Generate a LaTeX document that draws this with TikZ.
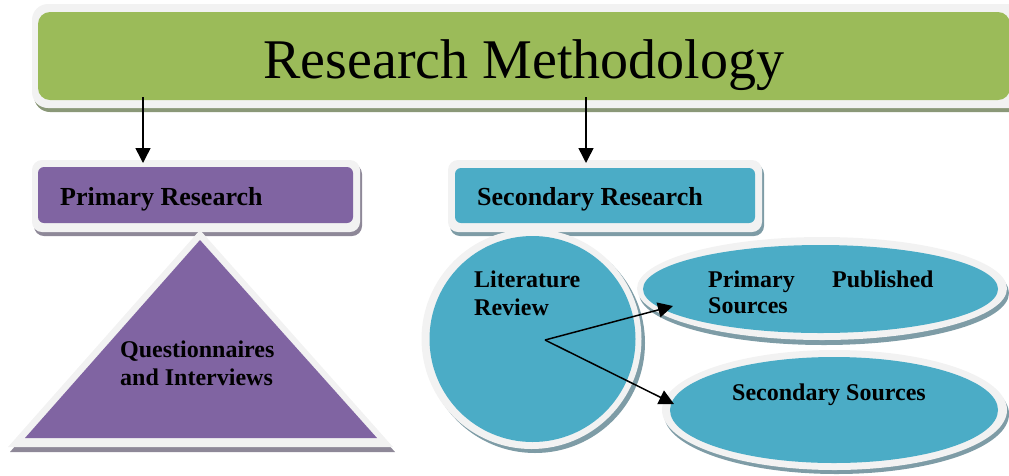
\documentclass[tikz,border=0pt]{standalone}
\usepackage{fontspec}
\setmainfont{Liberation Serif}
\usetikzlibrary{arrows.meta}
\definecolor{rmgreen}{HTML}{9BBB59}
\definecolor{rmpurple}{HTML}{8064A2}
\definecolor{rmteal}{HTML}{4BACC6}
\definecolor{rmbord}{HTML}{F2F2F2}
\definecolor{shgreen}{HTML}{8A9878}
\definecolor{shpurple}{HTML}{8E8898}
\definecolor{shteal}{HTML}{7E9CA6}
\tikzset{
  lbl/.style={font=\bfseries\fontsize{24}{28}\selectfont, inner sep=0pt, anchor=base west},
  hdr/.style={font=\bfseries\fontsize{26}{30}\selectfont, inner sep=0pt, anchor=base west},
  conn/.style={line width=1.5pt, -{Triangle[length=15pt,width=15pt]}},
}
\begin{document}
\begin{tikzpicture}[x=1pt,y=-1pt]
\clip (0,0) rectangle (1009,475);
\useasboundingbox (0,0) rectangle (1009,475);
% ---- top green box
\fill[shgreen, rounded corners=16pt] (34,10) rectangle (1030,112);
\fill[rmbord, rounded corners=16pt] (32,4) rectangle (1030,108);
\fill[rmgreen, rounded corners=12pt] (38,12) rectangle (1010,100);
\node[font=\fontsize{56}{60}\selectfont, inner sep=0pt, anchor=base] (title) at (524,78) {Research Methodology};
% ---- primary research box
\fill[shpurple, rounded corners=10pt] (34,164) rectangle (362,236);
\fill[rmbord, rounded corners=10pt] (32,160) rectangle (360,232);
\fill[rmpurple, rounded corners=6pt] (38,167) rectangle (353,223);
\node[hdr] (prim) at (60,205) {Primary Research};
% ---- secondary research box
\fill[shteal, rounded corners=10pt] (450,164) rectangle (764,236);
\fill[rmbord, rounded corners=10pt] (448,160) rectangle (762,232);
\fill[rmteal, rounded corners=6pt] (455,168) rectangle (755,223);
\node[hdr] (sec) at (477,205) {Secondary Research};
% ---- triangle
\fill[shpurple] (10,452) -- (200,236) -- (395,452) -- cycle;
\fill[rmbord] (8,447) -- (200,230) -- (393,447) -- cycle;
\fill[rmpurple] (25,438) -- (200,240) -- (377,438) -- cycle;
\node[lbl] (q1) at (120,357) {Questionnaires};
\node[lbl] (q2) at (120,385) {and Interviews};
% ---- ellipses (drawn before circle so circle overlaps)
\fill[shteal] (824,293) ellipse [x radius=185pt, y radius=52pt];
\fill[rmbord] (822,288.5) ellipse [x radius=185pt, y radius=51.5pt];
\fill[rmteal] (820.5,289) ellipse [x radius=177.5pt, y radius=44pt];
\fill[shteal] (836.5,414) ellipse [x radius=172.5pt, y radius=60pt];
\fill[rmbord] (834.5,410) ellipse [x radius=172.5pt, y radius=60pt];
\fill[rmteal] (834,410) ellipse [x radius=164pt, y radius=53pt];
% ---- literature review circle
\fill[shteal] (535,343) circle [radius=110pt];
\fill[rmbord] (531.5,339) circle [radius=110pt];
\fill[rmteal] (532.5,339) circle [radius=103pt];
\node[lbl] (lit1) at (474,287) {Literature};
\node[lbl] (lit2) at (474,315) {Review};
\node[lbl] (ps1) at (708,287) {Primary};
\node[lbl] (ps2) at (832,287) {Published};
\node[lbl] (ps3) at (708,313) {Sources};
\node[lbl] (ss) at (732,400) {Secondary Sources};
% ---- connectors
\coordinate (t1) at (143,97);
\coordinate (p1) at (143,163);
\coordinate (t2) at (586,97);
\coordinate (s1) at (586,163);
\coordinate (hub) at (545,340);
\coordinate (pse) at (673,306);
\coordinate (sse) at (674,404);
\draw[conn] (t1) -- (p1);
\draw[conn] (t2) -- (s1);
\draw[conn] (hub) -- (pse);
\draw[conn] (hub) -- (sse);
\end{tikzpicture}
\end{document}
